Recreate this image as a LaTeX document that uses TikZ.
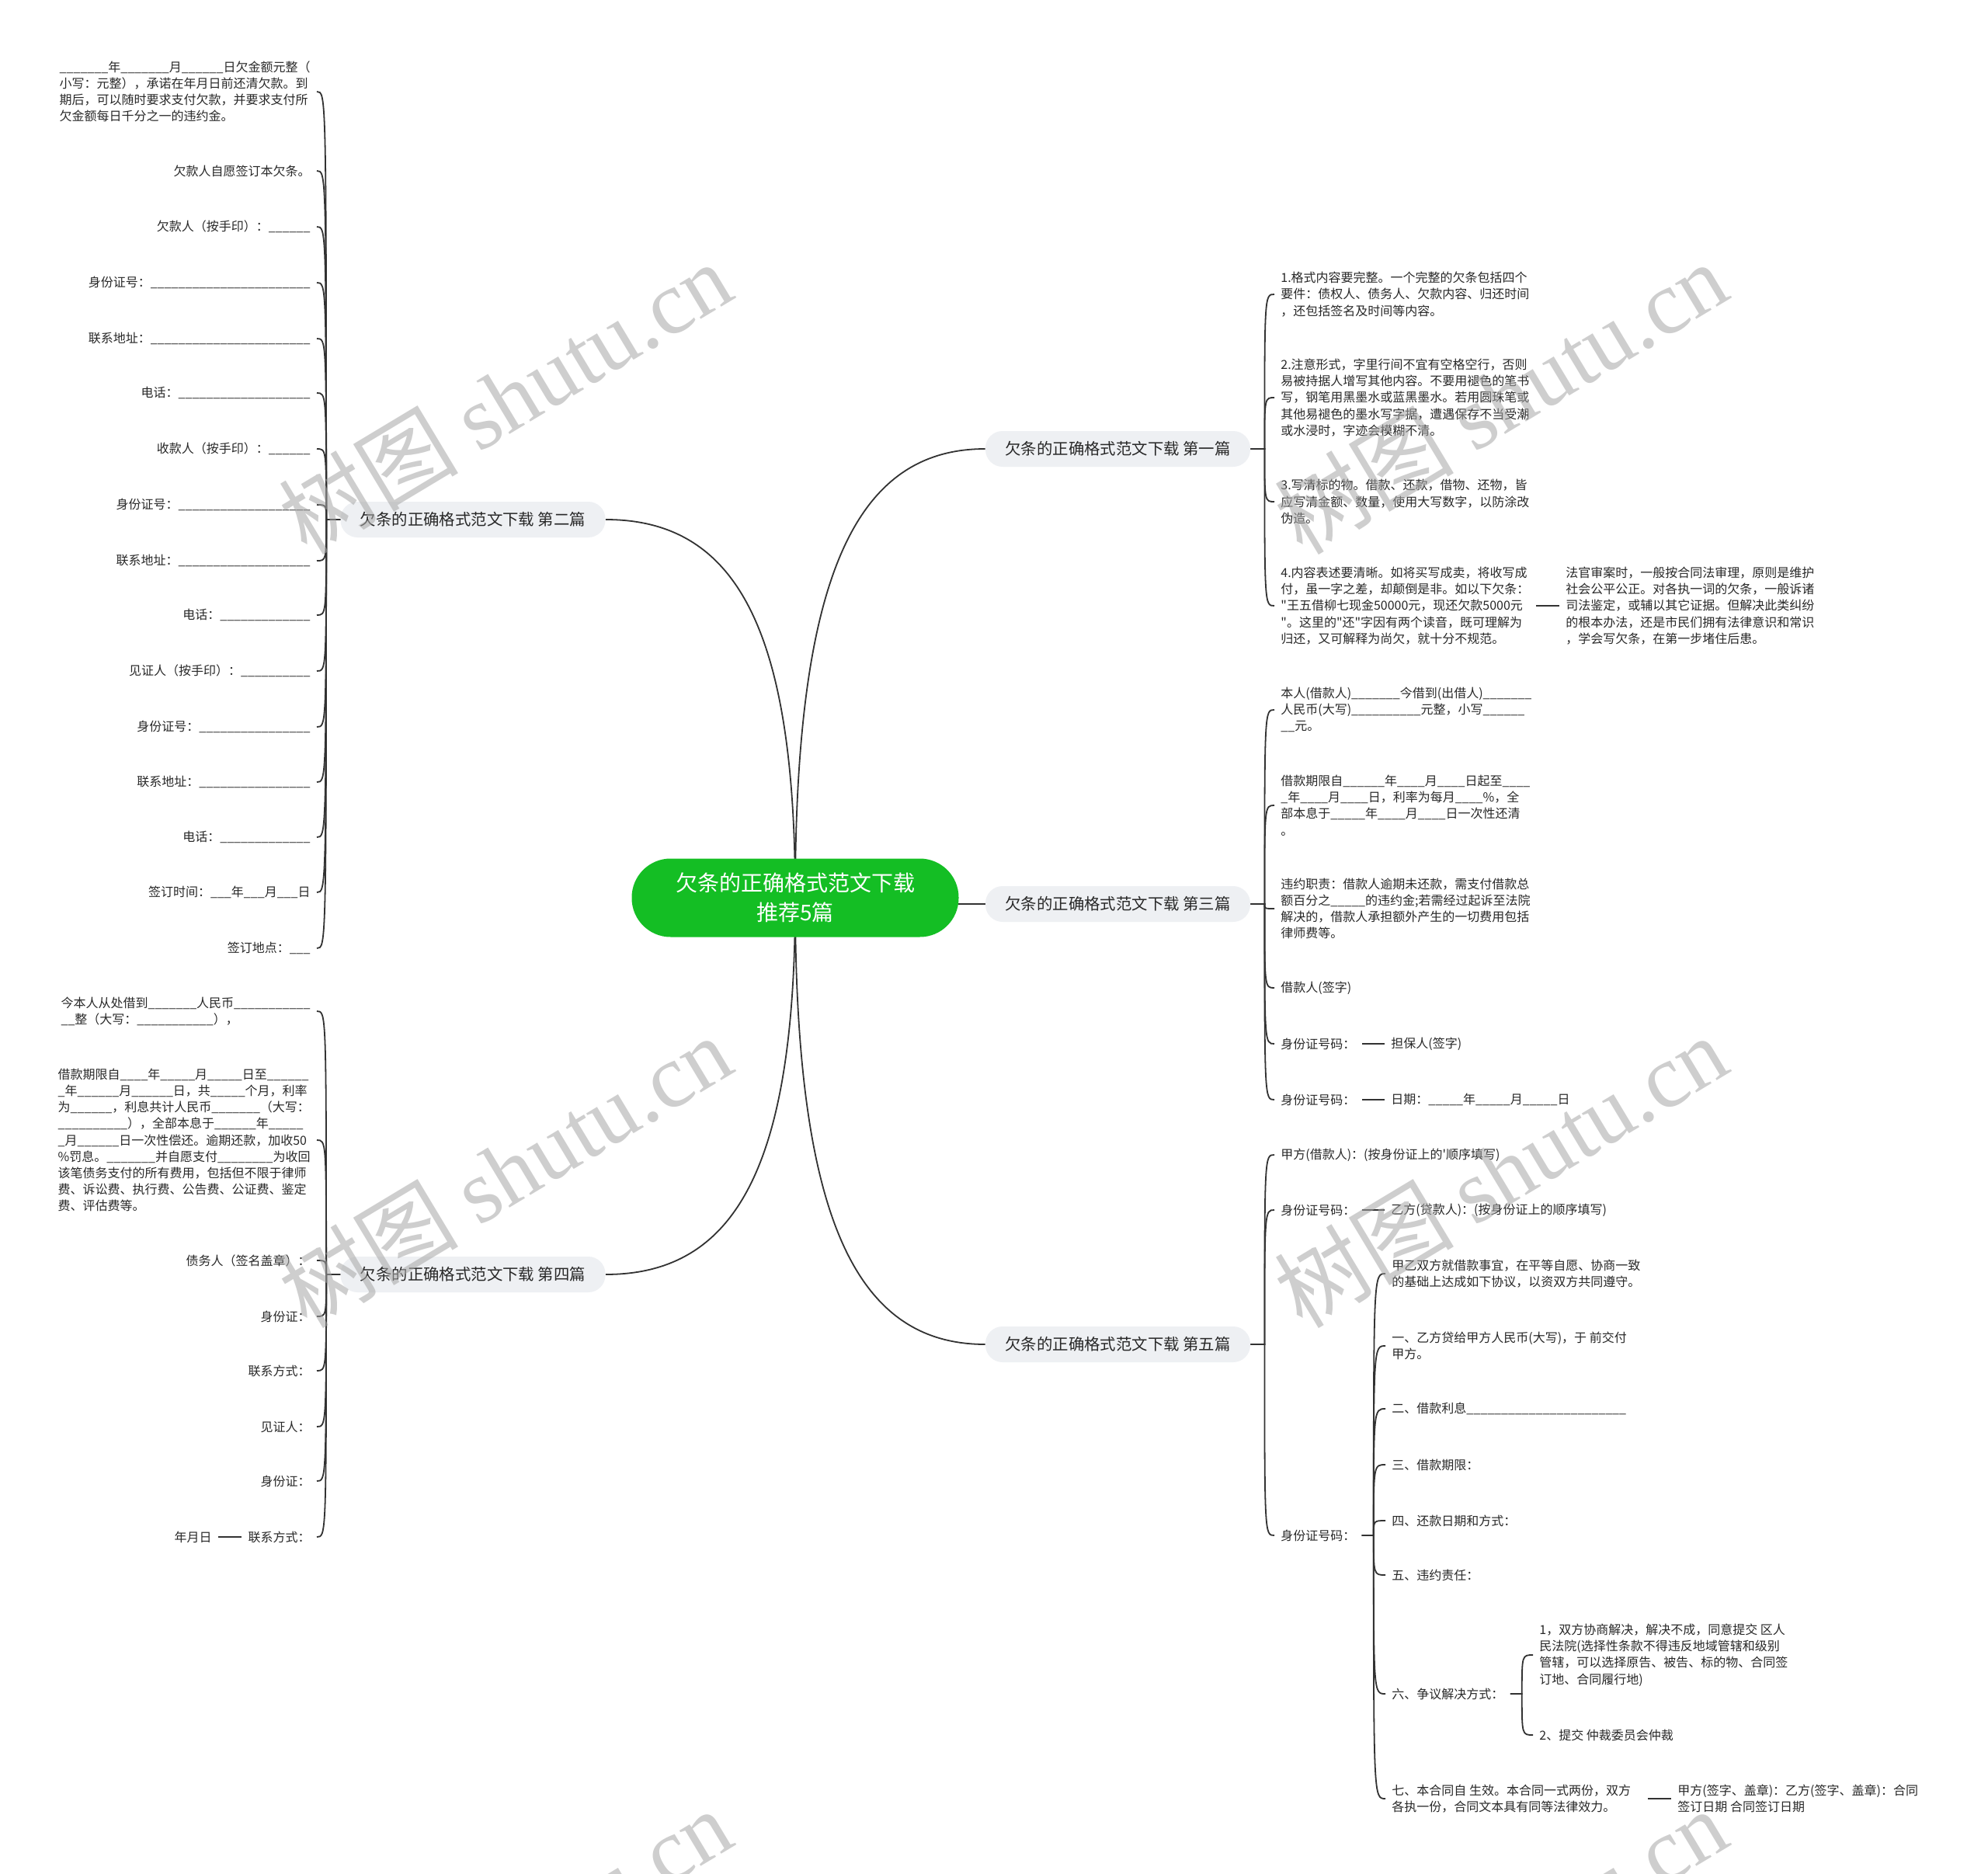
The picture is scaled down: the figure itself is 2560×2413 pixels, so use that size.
\documentclass[tikz,border=0pt]{standalone}
\usepackage{fontspec}
\setmainfont{Noto Sans CJK SC}[Ligatures=TeXOff]
\newfontfamily\wmlatin{Liberation Serif}
\usetikzlibrary{calc}
\pgfdeclarelayer{bg}
\pgfsetlayers{bg,main}
\definecolor{cgreen}{RGB}{20,190,36}
\definecolor{cbranch}{RGB}{238,240,243}
\definecolor{ctext}{RGB}{40,40,40}
\definecolor{cline}{RGB}{50,50,50}
\newcommand\myblank[1]{\foreach \myi in {1,...,#1}{\_}}
\newcommand\hookR[3]{\draw[conn] (#1.east) -- (#2) .. controls (#2 |- #3.west) and (#2 |- #3.west) .. (#3.west);}
\newcommand\hookL[3]{\draw[conn] (#1.west) -- (#2) .. controls (#2 |- #3.east) and (#2 |- #3.east) .. (#3.east);}
\begin{document}
\begin{tikzpicture}[x=0.5pt,y=-0.5pt,
  rootbox/.style={fill=cgreen, text=white, rounded corners=25pt, minimum width=210.5pt, minimum height=50.5pt, align=center, inner sep=0pt, font=\fontsize{14}{18.8}\selectfont},
  branchbox/.style={fill=cbranch, text=ctext, rounded corners=11pt, minimum width=170.5pt, minimum height=23pt, inner sep=0pt, font=\fontsize{10.2}{12}\selectfont},
  leaf/.style={text=ctext, inner xsep=4pt, inner ysep=0pt, align=left, font=\fontsize{8}{10.6}\selectfont},
  leafR/.style={leaf, anchor=west},
  leafL/.style={leaf, anchor=east},
  conn/.style={draw=cline, line width=0.9pt},
  wm/.style={rotate=31, text=black!35, opacity=0.55, inner sep=0pt, font=\fontsize{58}{58}\selectfont}]
\useasboundingbox (0,0) rectangle (2560,2413);
\begin{pgfonlayer}{bg}
\fill[white] (0,0) rectangle (2560,2413);
\end{pgfonlayer}

% root and branches
\node[rootbox] (root) at (1024,1156) {欠条的正确格式范文下载\\推荐5篇};
\node[branchbox] (b1) at (1439.5,578) {欠条的正确格式范文下载 第一篇};
\node[branchbox] (b3) at (1439.5,1164) {欠条的正确格式范文下载 第三篇};
\node[branchbox] (b5) at (1439.5,1731) {欠条的正确格式范文下载 第五篇};
\node[branchbox] (b2) at (609,669) {欠条的正确格式范文下载 第二篇};
\node[branchbox] (b4) at (609,1641) {欠条的正确格式范文下载 第四篇};

% branch 1
\node[leafR] (c1) at (1641,379) {1.格式内容要完整。一个完整的欠条包括四个\\要件：债权人、债务人、欠款内容、归还时间\\，还包括签名及时间等内容。};
\node[leafR] (c2) at (1641,512) {2.注意形式，字里行间不宜有空格空行，否则\\易被持据人增写其他内容。不要用褪色的笔书\\写，钢笔用黑墨水或蓝黑墨水。若用圆珠笔或\\其他易褪色的墨水写字据，遭遇保存不当受潮\\或水浸时，字迹会模糊不清。};
\node[leafR] (c3) at (1641,646) {3.写清标的物。借款、还款，借物、还物，皆\\应写清金额、数量，使用大写数字，以防涂改\\伪造。};
\node[leafR] (c4) at (1641,780) {4.内容表述要清晰。如将买写成卖，将收写成\\付，虽一字之差，却颠倒是非。如以下欠条：\\"王五借柳七现金50000元，现还欠款5000元\\"。这里的"还"字因有两个读音，既可理解为\\归还，又可解释为尚欠，就十分不规范。};
\node[leafR] (c4x) at (2008,780) {法官审案时，一般按合同法审理，原则是维护\\社会公平公正。对各执一词的欠条，一般诉诸\\司法鉴定，或辅以其它证据。但解决此类纠纷\\的根本办法，还是市民们拥有法律意识和常识\\，学会写欠条，在第一步堵住后患。};

% branch 3
\node[leafR] (d1) at (1641,914) {本人(借款人)\myblank{7}今借到(出借人)\myblank{7}\\人民币(大写)\myblank{10}元整，小写\myblank{6}\\\myblank{2}元。};
\node[leafR] (d2) at (1641,1037) {借款期限自\myblank{6}年\myblank{4}月\myblank{4}日起至\myblank{4}\\\myblank{1}年\myblank{4}月\myblank{4}日，利率为每月\myblank{4}\%，全\\部本息于\myblank{5}年\myblank{4}月\myblank{4}日一次性还清\\。};
\node[leafR] (d3) at (1641,1170) {违约职责：借款人逾期未还款，需支付借款总\\额百分之\myblank{5}的违约金;若需经过起诉至法院\\解决的，借款人承担额外产生的一切费用包括\\律师费等。};
\node[leafR] (d4) at (1641,1272) {借款人(签字)};
\node[leafR] (d5) at (1641,1344) {身份证号码：};
\node[leafR] (d5x) at (1783,1344) {担保人(签字)};
\node[leafR] (d6) at (1641,1416) {身份证号码：};
\node[leafR] (d6x) at (1783,1416) {日期：\myblank{5}年\myblank{5}月\myblank{5}日};

% branch 5
\node[leafR] (e1) at (1641,1487) {甲方(借款人)：(按身份证上的'顺序填写)};
\node[leafR] (e2) at (1641,1558) {身份证号码：};
\node[leafR] (e2x) at (1783,1558) {乙方(贷款人)：(按身份证上的顺序填写)};
\node[leafR] (e3) at (1641,1977) {身份证号码：};
\node[leafR] (f1) at (1784,1640) {甲乙双方就借款事宜，在平等自愿、协商一致\\的基础上达成如下协议，以资双方共同遵守。};
\node[leafR] (f2) at (1784,1733) {一、乙方贷给甲方人民币(大写)，于 前交付\\甲方。};
\node[leafR] (f3) at (1784,1814) {二、借款利息\myblank{23}};
\node[leafR] (f4) at (1784,1886) {三、借款期限：};
\node[leafR] (f5) at (1784,1958) {四、还款日期和方式：};
\node[leafR] (f6) at (1784,2028) {五、违约责任：};
\node[leafR] (f7) at (1784,2181) {六、争议解决方式：};
\node[leafR] (g1) at (1974,2131) {1，双方协商解决，解决不成，同意提交 区人\\民法院(选择性条款不得违反地域管辖和级别\\管辖，可以选择原告、被告、标的物、合同签\\订地、合同履行地)};
\node[leafR] (g2) at (1974,2234) {2、提交 仲裁委员会仲裁};
\node[leafR] (f8) at (1784,2316) {七、本合同自 生效。本合同一式两份，双方\\各执一份，合同文本具有同等法律效力。};
\node[leafR] (f8x) at (2152,2316) {甲方(签字、盖章)：乙方(签字、盖章)：合同\\签订日期 合同签订日期};

% branch 2
\node[leafL] (h1) at (408,118) {\myblank{7}年\myblank{7}月\myblank{6}日欠金额元整（\\小写：元整），承诺在年月日前还清欠款。到\\期后，可以随时要求支付欠款，并要求支付所\\欠金额每日千分之一的违约金。};
\node[leafL] (h2) at (408,220) {欠款人自愿签订本欠条。};
\node[leafL] (h3) at (408,292) {欠款人（按手印）：\myblank{6}};
\node[leafL] (h4) at (408,364) {身份证号：\myblank{23}};
\node[leafL] (h5) at (408,436) {联系地址：\myblank{23}};
\node[leafL] (h6) at (408,506) {电话：\myblank{19}};
\node[leafL] (h7) at (408,578) {收款人（按手印）：\myblank{6}};
\node[leafL] (h8) at (408,650) {身份证号：\myblank{19}};
\node[leafL] (h9) at (408,722) {联系地址：\myblank{19}};
\node[leafL] (h10) at (408,792) {电话：\myblank{13}};
\node[leafL] (h11) at (408,864) {见证人（按手印）：\myblank{10}};
\node[leafL] (h12) at (408,936) {身份证号：\myblank{16}};
\node[leafL] (h13) at (408,1007) {联系地址：\myblank{16}};
\node[leafL] (h14) at (408,1078) {电话：\myblank{13}};
\node[leafL] (h15) at (408,1149) {签订时间：\myblank{3}年\myblank{3}月\myblank{3}日};
\node[leafL] (h16) at (408,1221) {签订地点：\myblank{3}};

% branch 4
\node[leafL] (i1) at (408,1302) {今本人从处借到\myblank{7}人民币\myblank{11}\\\myblank{2}整（大写：\myblank{11}），};
\node[leafL] (i2) at (408,1468) {借款期限自\myblank{4}年\myblank{5}月\myblank{5}日至\myblank{6}\\\myblank{1}年\myblank{6}月\myblank{6}日，共\myblank{5}个月，利率\\为\myblank{6}，利息共计人民币\myblank{7}（大写：\\\myblank{10}），全部本息于\myblank{6}年\myblank{5}\\\myblank{1}月\myblank{6}日一次性偿还。逾期还款，加收50\\\%罚息。\myblank{7}并自愿支付\myblank{8}为收回\\该笔债务支付的所有费用，包括但不限于律师\\费、诉讼费、执行费、公告费、公证费、鉴定\\费、评估费等。};
\node[leafL] (i3) at (408,1623) {债务人（签名盖章）：};
\node[leafL] (i4) at (408,1695) {身份证：};
\node[leafL] (i5) at (408,1765) {联系方式：};
\node[leafL] (i6) at (408,1837) {见证人：};
\node[leafL] (i7) at (408,1907) {身份证：};
\node[leafL] (i8) at (408,1979) {联系方式：};
\node[leafL] (i8x) at (281,1979) {年月日};

% trunk points
\coordinate (t1) at ($(b1.east)+(18,0)$);
\coordinate (t3) at ($(b3.east)+(18,0)$);
\coordinate (t5) at ($(b5.east)+(18,0)$);
\coordinate (te) at ($(e3.east)+(15,0)$);
\coordinate (tf) at ($(f7.east)+(15,0)$);
\coordinate (t2) at ($(b2.west)+(-18,0)$);
\coordinate (t4) at ($(b4.west)+(-18,0)$);
\coordinate (k1) at (root.center |- b1.west);
\coordinate (k5) at (root.center |- b5.west);
\coordinate (k2) at (root.center |- b2.east);
\coordinate (k4) at (root.center |- b4.east);

\begin{pgfonlayer}{bg}
% root to branches
\draw[conn] (root.center) .. controls ($(root.center)!0.7!(k1)$) and ($(k1)!0.3!(b1.west)$) .. (b1.west);
\draw[conn] (root.center) .. controls ($(root.center)!0.7!(k5)$) and ($(k5)!0.3!(b5.west)$) .. (b5.west);
\draw[conn] (root.center) .. controls ($(root.center)!0.7!(k2)$) and ($(k2)!0.3!(b2.east)$) .. (b2.east);
\draw[conn] (root.center) .. controls ($(root.center)!0.7!(k4)$) and ($(k4)!0.3!(b4.east)$) .. (b4.east);
\draw[conn] (root.center |- b3.west) -- (b3.west);
% branch 1
\hookR{b1}{t1}{c1}\hookR{b1}{t1}{c2}\hookR{b1}{t1}{c3}\hookR{b1}{t1}{c4}
\draw[conn] (c4.east) -- (c4x.west);
% branch 3
\hookR{b3}{t3}{d1}\hookR{b3}{t3}{d2}\hookR{b3}{t3}{d3}\hookR{b3}{t3}{d4}\hookR{b3}{t3}{d5}\hookR{b3}{t3}{d6}
\draw[conn] (d5.east) -- (d5x.west);
\draw[conn] (d6.east) -- (d6x.west);
% branch 5
\hookR{b5}{t5}{e1}\hookR{b5}{t5}{e2}\hookR{b5}{t5}{e3}
\draw[conn] (e2.east) -- (e2x.west);
\hookR{e3}{te}{f1}\hookR{e3}{te}{f2}\hookR{e3}{te}{f3}\hookR{e3}{te}{f4}
\hookR{e3}{te}{f5}\hookR{e3}{te}{f6}\hookR{e3}{te}{f7}\hookR{e3}{te}{f8}
\hookR{f7}{tf}{g1}\hookR{f7}{tf}{g2}
\draw[conn] ($(f8.east)+(14,0)$) -- (f8x.west);
% branch 2
\hookL{b2}{t2}{h1}\hookL{b2}{t2}{h2}\hookL{b2}{t2}{h3}\hookL{b2}{t2}{h4}
\hookL{b2}{t2}{h5}\hookL{b2}{t2}{h6}\hookL{b2}{t2}{h7}\hookL{b2}{t2}{h8}
\hookL{b2}{t2}{h9}\hookL{b2}{t2}{h10}\hookL{b2}{t2}{h11}\hookL{b2}{t2}{h12}
\hookL{b2}{t2}{h13}\hookL{b2}{t2}{h14}\hookL{b2}{t2}{h15}\hookL{b2}{t2}{h16}
% branch 4
\hookL{b4}{t4}{i1}\hookL{b4}{t4}{i2}\hookL{b4}{t4}{i3}\hookL{b4}{t4}{i4}
\hookL{b4}{t4}{i5}\hookL{b4}{t4}{i6}\hookL{b4}{t4}{i7}\hookL{b4}{t4}{i8}
\draw[conn] (i8x.east) -- (i8.west);
\end{pgfonlayer}

% watermarks
\begin{scope}
\clip (0,0) rectangle (2560,2413);
\foreach \wx/\wy [count=\k] in {650/512, 1932/512, 650/1508, 1932/1508, 650/2504, 1932/2504}
  \node[wm] (wm\k) at (\wx,\wy) {树图 {\wmlatin shutu.cn}};
\end{scope}
\end{tikzpicture}
\end{document}
